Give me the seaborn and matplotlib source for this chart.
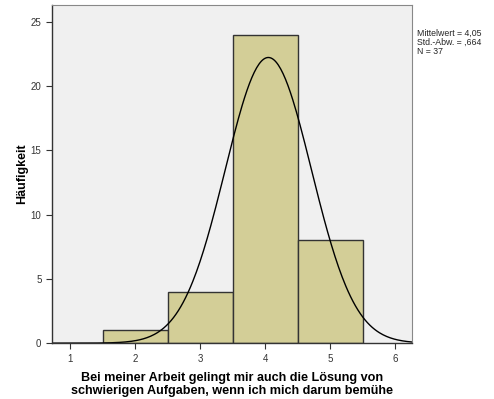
import numpy as np
import pandas as pd
import matplotlib
matplotlib.use("Agg")
import matplotlib.pyplot as plt
import seaborn as sns

# ── Data ──────────────────────────────────────────────────────────────────
answers = [2, 3, 4, 5]
counts = [1, 4, 24, 8]
mean_val = 4.05
sd_val = 0.664
n_total = 37

sns.set_theme(style="white")
plt.rcParams["font.family"] = ["Liberation Sans", "DejaVu Sans"]

df = pd.DataFrame({"answer": answers, "count": counts})

fig = plt.figure(figsize=(4.94, 3.99), dpi=100)
ax = fig.add_axes([0.105, 0.140, 0.729, 0.847])
ax.set_facecolor("#F0F0F0")

sns.histplot(data=df, x="answer", weights="count", binwidth=1, binrange=(1.5, 5.5),
             color="#D3CE97", edgecolor="#333333", linewidth=1.0, alpha=1.0, ax=ax)

# normal curve scaled to counts (bin width 1)
xs = np.linspace(0.72, 6.26, 300)
ys = n_total / (sd_val * np.sqrt(2 * np.pi)) * np.exp(-0.5 * ((xs - mean_val) / sd_val) ** 2)
sns.lineplot(x=xs, y=ys, color="black", linewidth=1.0, ax=ax)

ax.set_xlim(0.72, 6.26)
ax.set_ylim(0, 26.3)
ax.set_xticks([1, 2, 3, 4, 5, 6])
ax.set_yticks([0, 5, 10, 15, 20, 25])
ax.tick_params(axis="both", labelsize=7, length=4, width=0.8, color="#333333",
               direction="out", bottom=True, left=True, labelcolor="#333333")
for side in ["left", "bottom"]:
    ax.spines[side].set_color("#333333")
    ax.spines[side].set_linewidth(1.0)
for side in ["top", "right"]:
    ax.spines[side].set_color("#888888")
    ax.spines[side].set_linewidth(0.8)

ax.set_ylabel("Häufigkeit", fontsize=9, fontweight="bold", labelpad=2, color="black")
ax.set_xlabel("Bei meiner Arbeit gelingt mir auch die Lösung von\n"
              "schwierigen Aufgaben, wenn ich mich darum bemühe",
              fontsize=9.1, fontweight="bold", labelpad=6, linespacing=1.15, color="black")

fig.text(0.845, 0.928, "Mittelwert = 4,05\nStd.-Abw. = ,664\nN = 37",
         fontsize=6.3, va="top", ha="left", linespacing=1.0)

fig.savefig("out.png", dpi=100)
